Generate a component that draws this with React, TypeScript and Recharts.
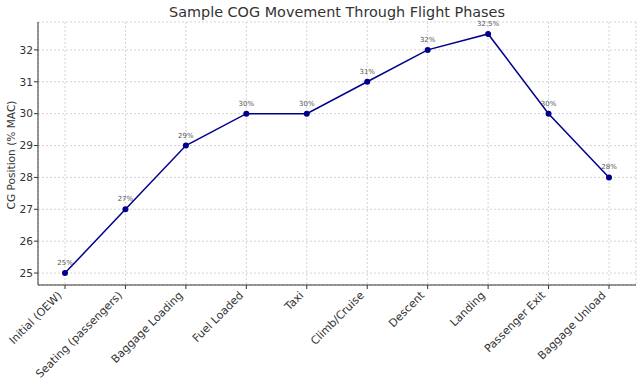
import React from "react"
import {
  LineChart,
  Line,
  XAxis,
  YAxis,
  CartesianGrid,
  LabelList,
  Label,
} from "recharts"

// CG position (% MAC) at each stage of a sample flight
const PHASES = [
  "Initial (OEW)",
  "Seating (passengers)",
  "Baggage Loading",
  "Fuel Loaded",
  "Taxi",
  "Climb/Cruise",
  "Descent",
  "Landing",
  "Passenger Exit",
  "Baggage Unload",
]
const CG_VALUES = [25, 27, 29, 30, 30, 31, 32, 32.5, 30, 28]
const Y_TICKS = [25, 26, 27, 28, 29, 30, 31, 32]

const DATA = PHASES.map((phase, i) => ({ phase, cg: CG_VALUES[i] }))

const INK = "#333"
const LINE = "#00008B"
const FONT = "'DejaVu Sans', sans-serif"

function PhaseTick(props: any) {
  const { x, y, payload } = props
  const px = x - 2.5
  const py = y + 5
  return (
    <text
      x={px}
      y={py}
      transform={`rotate(-45 ${px} ${py})`}
      textAnchor="end"
      fontSize={11}
      fontFamily={FONT}
      fill={INK}
    >
      {payload.value}
    </text>
  )
}

export default function App() {
  return (
    <div style={{ position: "relative", width: 642, height: 384, background: "#fff" }}>
      <style>{"body{margin:0}"}</style>
      <div
        style={{
          position: "absolute",
          left: 0,
          width: 674,
          top: 2,
          textAlign: "center",
          fontFamily: FONT,
          fontSize: 14.4,
          color: INK,
          lineHeight: "20px",
        }}
      >
        Sample COG Movement Through Flight Phases
      </div>
      <LineChart
        width={642}
        height={384}
        data={DATA}
        margin={{ top: 22, right: 6, bottom: 0, left: 0 }}
      >
        <CartesianGrid stroke="#d4d4d4" strokeDasharray="2 2" />
        <XAxis
          dataKey="phase"
          interval={0}
          padding={{ left: 27, right: 27 }}
          height={99}
          tickSize={4}
          tickMargin={2}
          stroke={INK}
          tick={<PhaseTick />}
        />
        <YAxis
          type="number"
          domain={[24.625, 32.875]}
          ticks={Y_TICKS}
          width={38}
          tickSize={4}
          tickMargin={1}
          stroke={INK}
          tick={{ fill: INK, fontSize: 10.6, fontFamily: FONT }}
        >
          <Label
            content={() => (
              <text
                x={15}
                y={155}
                transform="rotate(-90 15 155)"
                textAnchor="middle"
                fontSize={10.6}
                fontFamily={FONT}
                fill={INK}
              >
                CG Position (% MAC)
              </text>
            )}
          />
        </YAxis>
        <Line
          type="linear"
          dataKey="cg"
          stroke={LINE}
          strokeWidth={1.5}
          dot={{ r: 3, fill: LINE, stroke: LINE, strokeWidth: 0 }}
          isAnimationActive={false}
        >
          <LabelList
            dataKey="cg"
            position="top"
            offset={8}
            formatter={(v: any) => `${v}%`}
            style={{ fill: "#555", fontSize: 7, fontFamily: FONT }}
          />
        </Line>
      </LineChart>
    </div>
  )
}
